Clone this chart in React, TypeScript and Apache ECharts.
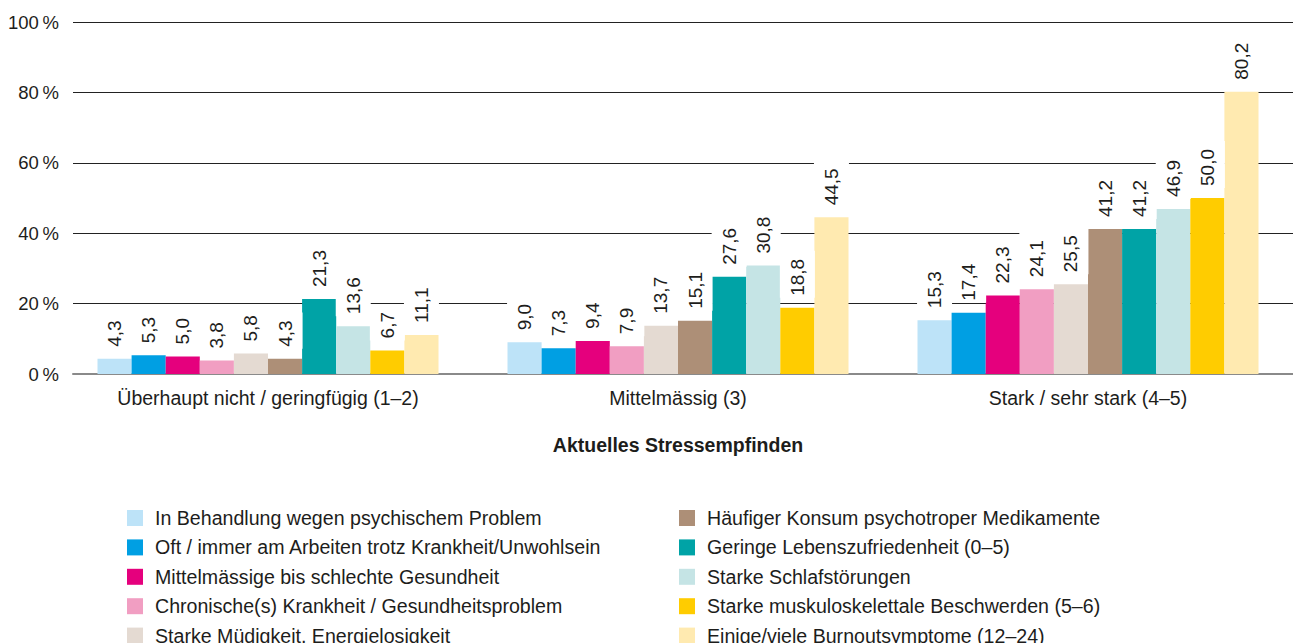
import React, { useEffect, useRef } from "react";
import * as echarts from "echarts";

const categories = [
  "Überhaupt nicht / geringfügig (1–2)",
  "Mittelmässig (3)",
  "Stark / sehr stark (4–5)",
];

const seriesNames = [
  "In Behandlung wegen psychischem Problem",
  "Oft / immer am Arbeiten trotz Krankheit/Unwohlsein",
  "Mittelmässige bis schlechte Gesundheit",
  "Chronische(s) Krankheit / Gesundheitsproblem",
  "Starke Müdigkeit, Energielosigkeit",
  "Häufiger Konsum psychotroper Medikamente",
  "Geringe Lebenszufriedenheit (0–5)",
  "Starke Schlafstörungen",
  "Starke muskuloskelettale Beschwerden (5–6)",
  "Einige/viele Burnoutsymptome (12–24)",
];

const seriesColors = [
  "#bde3f8",
  "#009fe3",
  "#e5007d",
  "#f19ec2",
  "#e4dad2",
  "#ad8f77",
  "#00a3a6",
  "#c5e4e5",
  "#ffcc00",
  "#ffeab0",
];

// values per series, across the three categories
const behandlung = [4.3, 9.0, 15.3];
const arbeitenKrank = [5.3, 7.3, 17.4];
const gesundheit = [5.0, 9.4, 22.3];
const chronisch = [3.8, 7.9, 24.1];
const muedigkeit = [5.8, 13.7, 25.5];
const medikamente = [4.3, 15.1, 41.2];
const lebenszufriedenheit = [21.3, 27.6, 41.2];
const schlaf = [13.6, 30.8, 46.9];
const muskulo = [6.7, 18.8, 50.0];
const burnout = [11.1, 44.5, 80.2];

const seriesValues = [
  behandlung,
  arbeitenKrank,
  gesundheit,
  chronisch,
  muedigkeit,
  medikamente,
  lebenszufriedenheit,
  schlaf,
  muskulo,
  burnout,
];

const yTicks = [0, 20, 40, 60, 80, 100];

const FONT = "'Liberation Sans', Arial, sans-serif";
const TEXT = "#1d1d1b";

export default function App() {
  const ref = useRef<HTMLDivElement>(null);

  useEffect(() => {
    if (!ref.current) return;
    const chart = echarts.init(ref.current, undefined, { renderer: "svg" });

    const series: any[] = seriesNames.map((name, i) => ({
      name,
      type: "bar",
      xAxisIndex: 1,
      yAxisIndex: 1,
      data: seriesValues[i],
      itemStyle: { color: seriesColors[i] },
      barWidth: 34.1,
      barGap: "0%",
      label: {
        show: true,
        position: "top",
        rotate: 90,
        distance: 10,
        align: "left",
        verticalAlign: "middle",
        formatter: (p: any) => p.value.toFixed(1).replace(".", ","),
        color: TEXT,
        fontFamily: FONT,
        fontSize: 19,
        backgroundColor: "#ffffff",
        padding: [8, 8, 8, 2],
      },
    }));

    const legendBase = {
      orient: "vertical",
      top: 508,
      padding: 0,
      itemWidth: 16,
      itemHeight: 16,
      itemGap: 9.4,
      icon: "rect",
      selectedMode: false,
      textStyle: {
        color: TEXT,
        fontFamily: FONT,
        fontSize: 19.6,
        lineHeight: 16,
        padding: [0, 0, 0, 7],
      },
    };

    chart.setOption({
      animation: false,
      textStyle: { fontFamily: FONT },
      grid: [
        { left: 73, right: 0, top: 22, bottom: 306, containLabel: false },
        { left: 63, width: 1231, top: 22, bottom: 306, containLabel: false },
      ],
      xAxis: [
        {
          type: "value",
          gridIndex: 0,
          min: 0,
          max: 1,
          axisLabel: { show: false },
          axisTick: { show: false },
          splitLine: { show: false },
          axisLine: { show: true, lineStyle: { color: "#8a8a8a", width: 2 } },
        },
        {
          type: "category",
          gridIndex: 1,
          data: categories,
          axisLine: { show: false },
          axisTick: { show: false },
          axisLabel: {
            color: TEXT,
            fontFamily: FONT,
            fontSize: 19.5,
            margin: 14,
          },
          name: "Aktuelles Stressempfinden",
          nameLocation: "middle",
          nameGap: 61,
          nameTextStyle: {
            color: TEXT,
            fontFamily: FONT,
            fontSize: 19.5,
            fontWeight: "bold",
          },
        },
      ],
      yAxis: [
        {
          type: "value",
          gridIndex: 0,
          min: yTicks[0],
          max: yTicks[yTicks.length - 1],
          interval: 20,
          axisLine: { show: false },
          axisTick: { show: false },
          axisLabel: {
            color: TEXT,
            fontFamily: FONT,
            fontSize: 18.5,
            margin: 14,
            formatter: (v: number) => `${v}\u2009%`,
          },
          splitLine: { show: true, lineStyle: { color: "#222222", width: 1 } },
        },
        {
          type: "value",
          gridIndex: 1,
          min: yTicks[0],
          max: yTicks[yTicks.length - 1],
          interval: 20,
          axisLine: { show: false },
          axisTick: { show: false },
          axisLabel: { show: false },
          splitLine: { show: false },
        },
      ],
      legend: [
        { ...legendBase, data: seriesNames.slice(0, 5), left: 127 },
        { ...legendBase, data: seriesNames.slice(5), left: 679 },
      ],
      series,
    });

    return () => chart.dispose();
  }, []);

  return (
    <div
      style={{
        position: "fixed",
        left: 0,
        top: 0,
        width: 1293,
        height: 643,
        overflow: "hidden",
        background: "#ffffff",
      }}
    >
      <div ref={ref} style={{ width: 1293, height: 680 }} />
    </div>
  );
}
